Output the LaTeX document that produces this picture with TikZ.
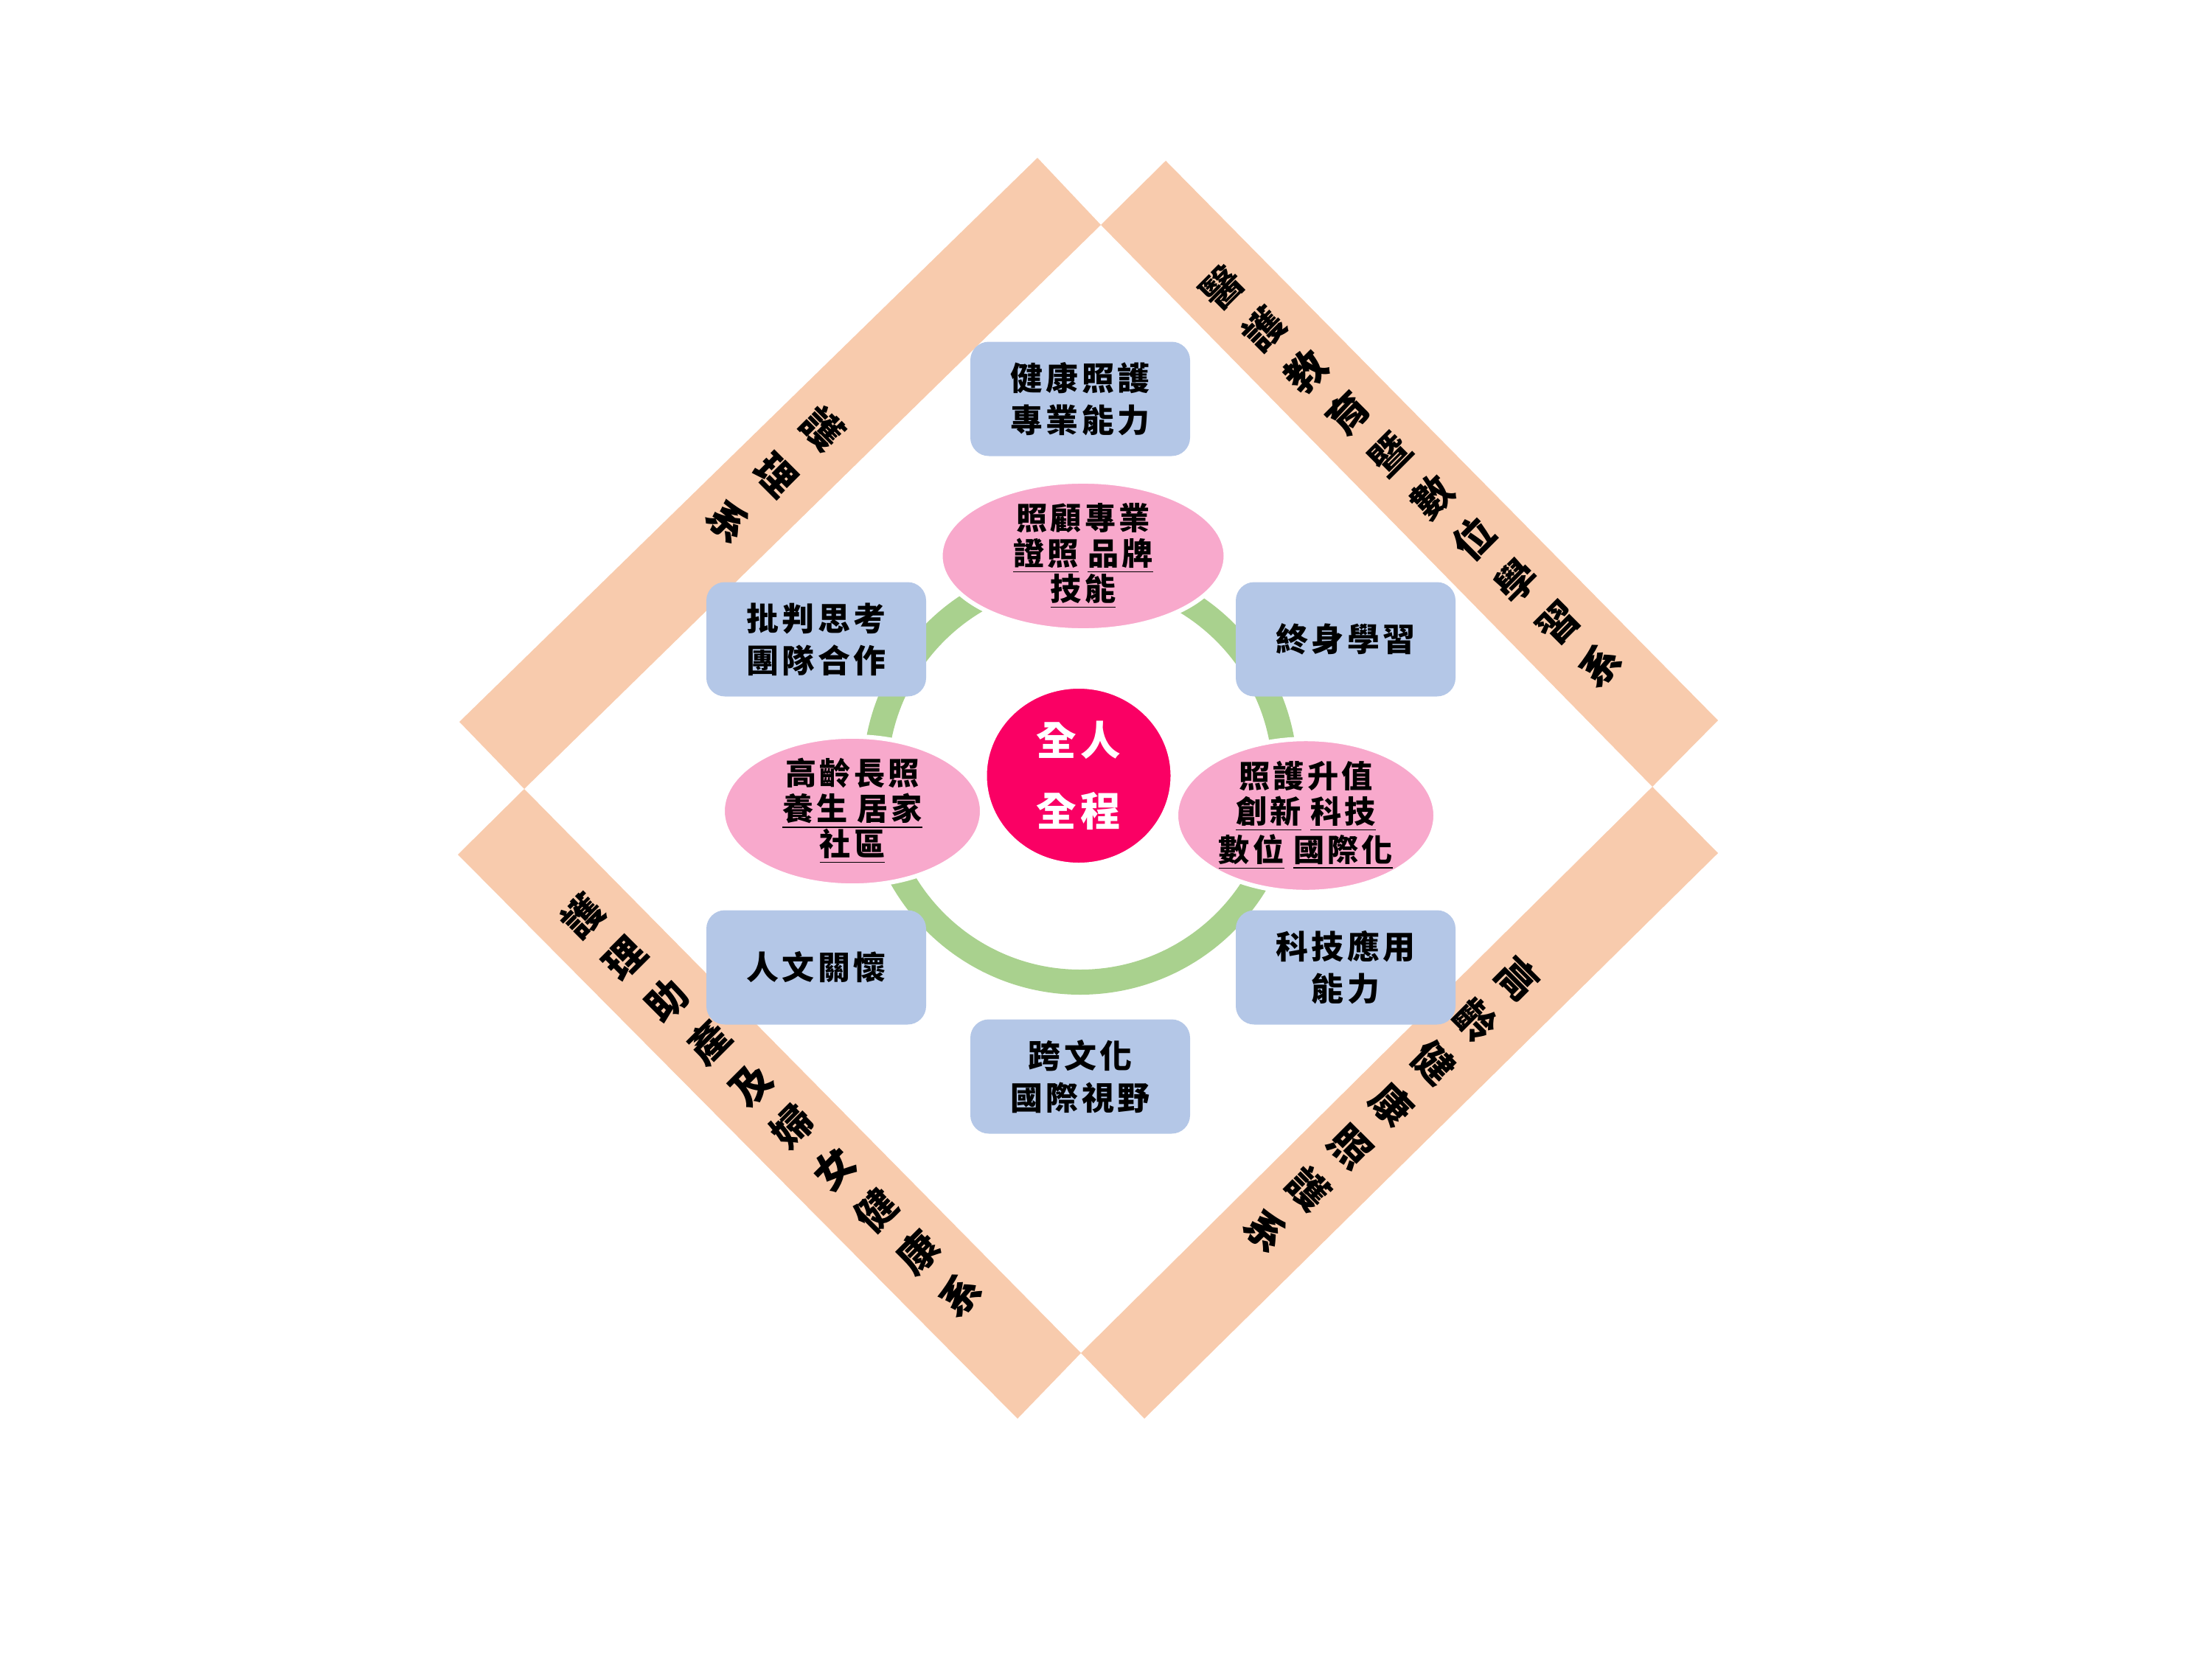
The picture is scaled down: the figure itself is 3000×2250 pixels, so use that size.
\documentclass[tikz,border=0pt]{standalone}
\usepackage{fontspec}
\newfontfamily\cjk[LetterSpace=10]{Noto Sans CJK TC}
\newfontfamily\cjkband{Noto Sans CJK TC}
\usetikzlibrary{shapes.geometric}
\definecolor{bandc}{HTML}{F8CBAD}
\definecolor{boxc}{HTML}{B4C7E7}
\definecolor{pinkc}{HTML}{F8A9CC}
\definecolor{ringc}{HTML}{A9D18E}
\definecolor{corec}{HTML}{FA0064}
\newcommand{\wgap}{\hspace{0.3em}}
\begin{document}
\begin{tikzpicture}[x=0.1mm,y=-0.1mm,
  band/.style={fill=bandc, draw=none},
  bandtext/.style={font=\cjkband\bfseries\fontsize{15.5}{22.9}\selectfont, align=center, inner sep=0},
  bluebox/.style={fill=boxc, rounded corners=2.5mm, minimum width=29.8mm, minimum height=15.5mm,
    inner sep=0, align=center, font=\cjk\bfseries\fontsize{12.5}{16.2}\selectfont},
  pinkell/.style={ellipse, fill=pinkc, draw=white, line width=0.6mm, inner sep=0, align=center,
    font=\cjk\bfseries\fontsize{12}{13.6}\selectfont},
  core/.style={ellipse, fill=corec, draw=white, line width=0.4mm, inner sep=0, align=center,
    minimum width=25.3mm, minimum height=24mm, text=white,
    font=\cjk\bfseries\fontsize{15.5}{27.3}\selectfont}]
\useasboundingbox (0,0) rectangle (3000,2250);
% frame bands
\fill[band] (711,1070) -- (623,979) -- (1407,214) -- (1493,305) -- cycle;
\fill[band] (1493,305) -- (1581,218) -- (2330,977) -- (2241,1067) -- cycle;
\fill[band] (2241,1067) -- (2330,1157) -- (1552,1924) -- (1466,1835) -- cycle;
\fill[band] (1466,1835) -- (1380,1924) -- (621,1159) -- (711,1070) -- cycle;
\node[bandtext, rotate=-45, font=\cjkband\bfseries\fontsize{15.5}{25.5}\selectfont] (tl) at (1052,644) {護\\理\\系};
\node[bandtext, rotate=45] (tr) at (1914,646) {醫\\護\\教\\育\\暨\\數\\位\\學\\習\\系};
\node[bandtext, rotate=-45] (br) at (1888,1498) {高\\齡\\健\\康\\照\\護\\系};
\node[bandtext, rotate=45] (bl) at (1046,1499) {護\\理\\助\\產\\及\\婦\\女\\健\\康\\系};
% ring
\draw[ringc, line width=3.4mm] (1465,1054) circle[radius=27.8mm];
% blue boxes
\node[bluebox] (b1) at (1465,541) {健康照護\\專業能力};
\node[bluebox] (b2) at (1107,867) {批判思考\\團隊合作};
\node[bluebox] (b3) at (1825,867) {終身學習};
\node[bluebox] (b4) at (1107,1312) {人文關懷};
\node[bluebox] (b5) at (1825,1312) {科技應用\\能力};
\node[bluebox] (b6) at (1465,1460) {跨文化\\國際視野};
% pink ellipses
\node[pinkell, minimum width=38.7mm, minimum height=18.7mm] (e1) at (1469,754)
  {照顧專業\\\underline{證照}\wgap\underline{品牌}\\\underline{技能}};
\node[pinkell, minimum width=35.2mm, minimum height=19.2mm] (e2) at (1156,1100)
  {高齡長照\\\underline{養生\wgap 居家}\\\underline{社區}};
\node[pinkell, minimum width=35.2mm, minimum height=19mm] (e3) at (1771,1106)
  {照護升值\\\underline{創新}\wgap\underline{科技}\\\underline{數位}\wgap\underline{國際化}};
% core
\node[core] (c) at (1463,1052) {全人\\全程};
\end{tikzpicture}
\end{document}
